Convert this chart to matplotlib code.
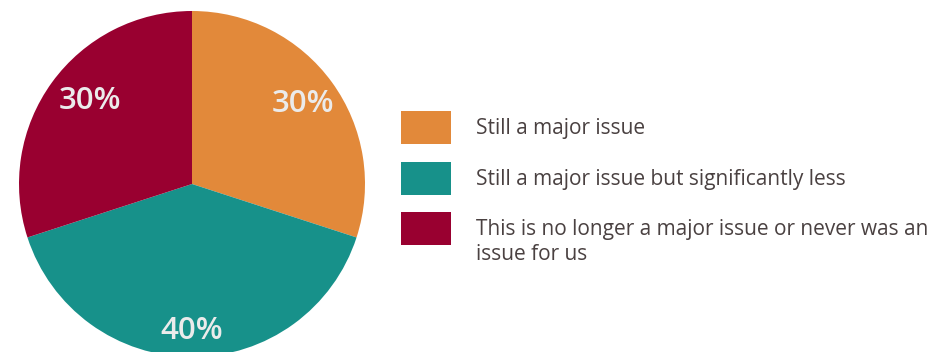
import numpy as np
import matplotlib
matplotlib.use("Agg")
import matplotlib.pyplot as plt
from matplotlib.patches import Rectangle

# survey answers, clockwise from 12 o'clock
labels = ["Still a major issue",
          "Still a major issue but significantly less",
          "This is no longer a major issue or never was an\nissue for us"]
shares = [30, 40, 30]
colors = ["#E2893A", "#17918A", "#990030"]
pct_dist = [0.79, 0.85, 0.76]  # how far out each percentage sits
pct_turn = [0, 0, -3]          # small angular nudge (deg) off the wedge middle

W, H = 947, 352
fig = plt.figure(figsize=(W / 100, H / 100), dpi=100)

# pie axes: centre at (192, 184) px from top-left, radius 173 px
cx, cy, r = 192, 184, 173
ax = fig.add_axes([(cx - r) / W, (H - cy - r) / H, 2 * r / W, 2 * r / H])
wedges, _ = ax.pie(shares, colors=colors, startangle=90, counterclock=False,
                   radius=1, wedgeprops=dict(linewidth=0))
ax.set_xlim(-1, 1)
ax.set_ylim(-1, 1)
ax.set_aspect("equal")
ax.axis("off")

for w, s, d, t in zip(wedges, shares, pct_dist, pct_turn):
    ang = np.deg2rad((w.theta1 + w.theta2) / 2 + t)
    ax.text(d * np.cos(ang), d * np.sin(ang), "{}%".format(s),
            ha="center", va="center", color="#EBEBEB", fontsize=22.5,
            fontfamily="Open Sans", fontweight="semibold")

# legend, drawn by hand so each swatch lines up with the first text line
box_x, box_w, box_h = 401, 50, 33
box_tops = [111, 162, 212]
txt_x = 476
txt_color = "#4A4141"
for top, lab, col in zip(box_tops, labels, colors):
    fig.add_artist(Rectangle((box_x / W, (H - top - box_h) / H), box_w / W, box_h / H,
                             transform=fig.transFigure, color=col, lw=0))
    fig.text(txt_x / W, (H - top - box_h / 2 - 1) / H, lab.split("\n")[0],
             ha="left", va="center", color=txt_color, fontsize=15.0, fontfamily="Open Sans")
    if "\n" in lab:
        fig.text(txt_x / W, (H - top - box_h / 2 - 26) / H, lab.split("\n")[1],
                 ha="left", va="center", color=txt_color, fontsize=15.0, fontfamily="Open Sans")

fig.savefig("out.png", dpi=100)
